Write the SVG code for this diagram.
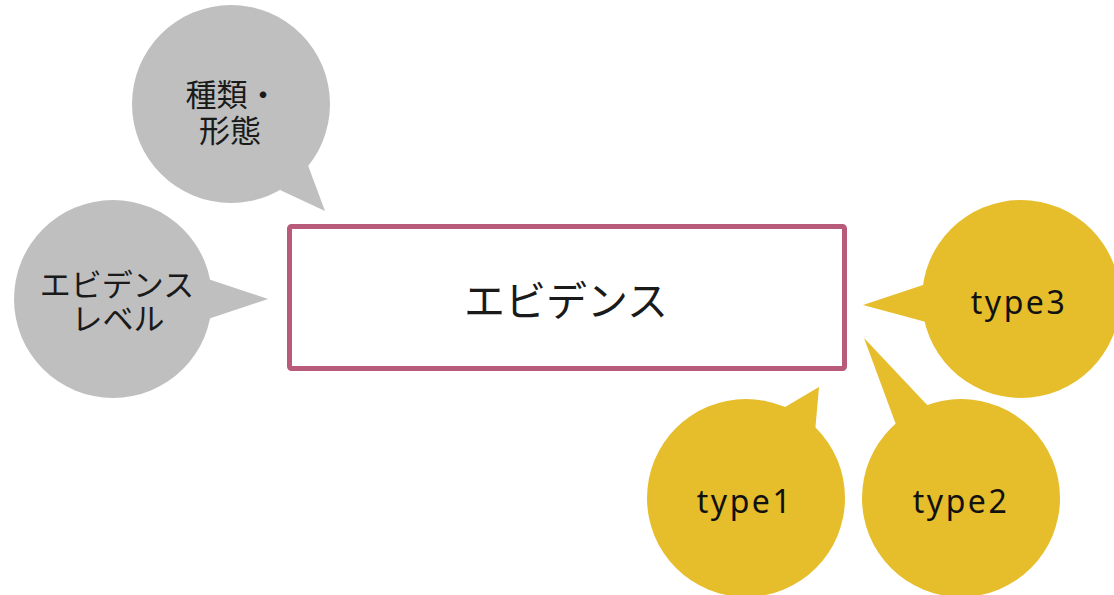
<svg xmlns="http://www.w3.org/2000/svg" width="1114" height="595" viewBox="0 0 1114 595">
<style>
.gray{fill:#BFBFBF}
.yellow{fill:#E6BD2A}
.jp{font-family:"Noto Sans CJK JP","Noto Sans",sans-serif;fill:#1a1a1a;text-anchor:middle}
.en{font-family:"Noto Sans","DejaVu Sans",sans-serif;fill:#111;text-anchor:middle;font-size:32px;letter-spacing:2.5px}
</style>
<rect width="1114" height="595" fill="#fff"/>
<g id="connectors"></g>
<g id="node-shurui">
<circle class="gray" cx="231" cy="104" r="99"/>
<polygon class="gray" points="306,160 325,211 280,190"/>
<text class="jp" font-size="31"><tspan x="232" y="106">種類・</tspan><tspan x="230" y="142">形態</tspan></text>
</g>
<g id="node-level">
<circle class="gray" cx="113" cy="299" r="99"/>
<polygon class="gray" points="205,278 268,299 205,320"/>
<text class="jp" font-size="31"><tspan x="117" y="296">エビデンス</tspan><tspan x="118" y="330">レベル</tspan></text>
</g>
<g id="node-evidence">
<rect x="289.5" y="226.5" width="555" height="142" rx="2" fill="#fff" stroke="#B85A7A" stroke-width="5"/>
<text class="jp" font-size="41" x="566" y="316">エビデンス</text>
</g>
<g id="node-type3">
<circle class="yellow" cx="1021" cy="299" r="99"/>
<polygon class="yellow" points="926,284 863,305 926,322"/>
<text class="en" x="1019" y="314">type3</text>
</g>
<g id="node-type1">
<circle class="yellow" cx="746" cy="498" r="99"/>
<polygon class="yellow" points="780,410 819,387 815,432"/>
<text class="en" x="745" y="513">type1</text>
</g>
<g id="node-type2">
<circle class="yellow" cx="961" cy="498" r="99"/>
<polygon class="yellow" points="898,430 864,338 930,408"/>
<text class="en" x="961" y="513">type2</text>
</g>
</svg>
